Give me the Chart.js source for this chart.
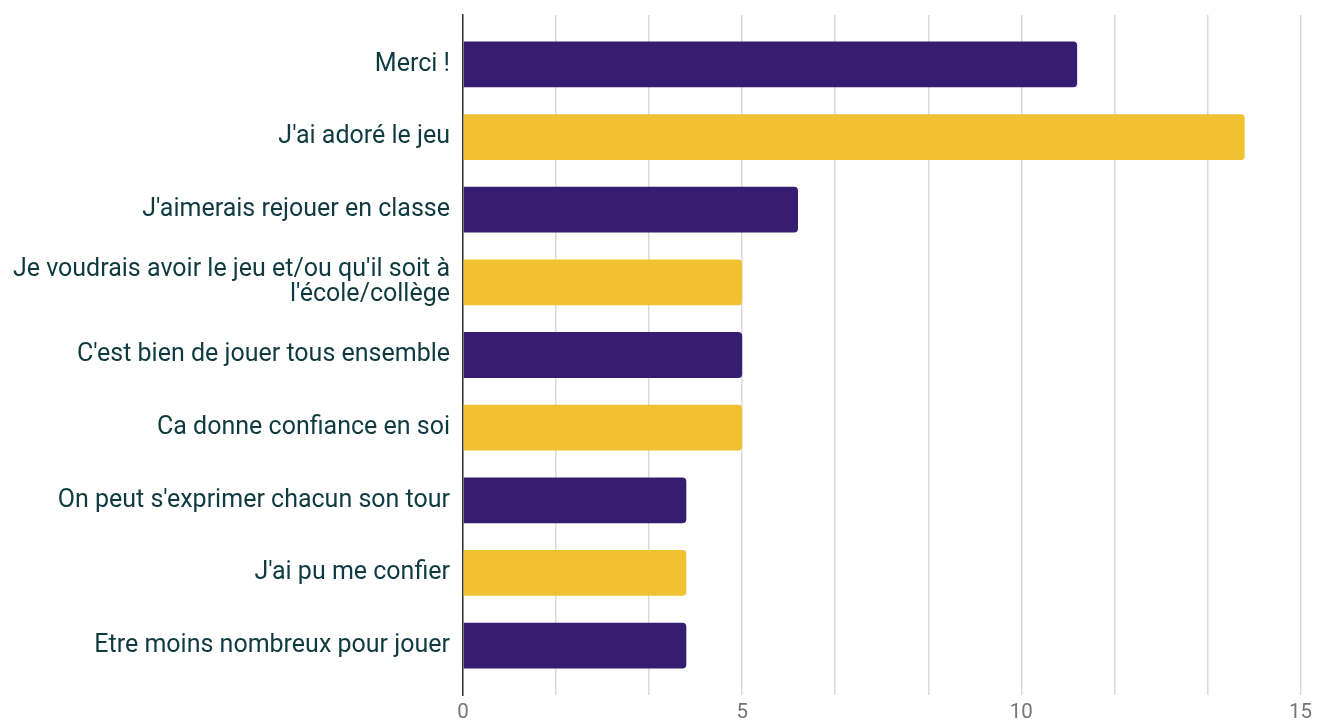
<!DOCTYPE html>
<html>
<head>
<meta charset="utf-8">
<script src="https://cdn.jsdelivr.net/npm/chart.js@4/dist/chart.umd.min.js"></script>
<style>
  html, body { margin: 0; padding: 0; background: #fff; }
  #wrap { width: 1318px; height: 724px; }
</style>
</head>
<body>
<div id="wrap"><canvas id="chart"></canvas></div>
<script>
// Réponses (libellés) et nombre de réponses
const labels = [
  'Merci !',
  "J'ai adoré le jeu",
  "J'aimerais rejouer en classe",
  ["Je voudrais avoir le jeu et/ou qu'il soit à", "l'école/collège"],
  "C'est bien de jouer tous ensemble",
  'Ca donne confiance en soi',
  "On peut s'exprimer chacun son tour",
  "J'ai pu me confier",
  'Etre moins nombreux pour jouer'
];
const values = [11, 14, 6, 5, 5, 5, 4, 4, 4];
const barColors = ['#371d72', '#f0c232'];
const xTicks = [0, 5, 10, 15];

// axe vertical en linéaire pour laisser de la marge en haut et en bas
const points = values.map((v, i) => ({ x: v, y: i }));

let ctx = document.getElementById('chart').getContext('2d');
new Chart(ctx, {
  type: 'bar',
  data: {
    datasets: [{
      data: points,
      backgroundColor: values.map((v, i) => barColors[i % 2]),
      borderRadius: 4,
      borderSkipped: 'start',
      categoryPercentage: 1,
      barPercentage: 0.63
    }]
  },
  options: {
    indexAxis: 'y',
    responsive: true,
    maintainAspectRatio: false,
    animation: false,
    layout: { padding: { top: 15, right: 16, bottom: 0, left: 0 } },
    plugins: { legend: { display: false }, tooltip: { enabled: false } },
    scales: {
      x: {
        type: 'linear',
        min: 0,
        max: 15,
        afterBuildTicks: scale => {
          // une ligne tous les 5/3, libellé seulement sur 0, 5, 10, 15
          let t = [];
          for (let i = 0; i <= 9; i++) t.push({ value: i * 15 / 9 });
          scale.ticks = t;
        },
        afterFit: scale => { scale.height = 29; },
        grid: { color: '#dadada', lineWidth: 1.5, drawTicks: false },
        border: { display: false },
        ticks: {
          padding: 6,
          color: '#757575',
          font: { family: 'Roboto', size: 20.5 },
          maxRotation: 0,
          autoSkip: false,
          callback: v => {
            let r = Math.round(v);
            return (Math.abs(v - r) < 1e-6 && xTicks.includes(r)) ? String(r) : '';
          }
        }
      },
      y: {
        type: 'linear',
        reverse: true,
        offset: false,
        min: -0.68,
        max: 8.68,
        afterBuildTicks: scale => {
          scale.ticks = labels.map((l, i) => ({ value: i }));
        },
        afterFit: scale => {
          scale.width = 463;
          scale.paddingTop = 0;
          scale.paddingBottom = 0;
        },
        grid: { display: false, drawTicks: false },
        border: { display: true, color: '#333', width: 1.5 },
        ticks: {
          padding: 13,
          color: '#0f3b40',
          font: { family: 'Roboto', size: 25, lineHeight: 1.0 },
          autoSkip: false,
          callback: v => labels[v]
        }
      }
    }
  }
});
</script>
</body>
</html>
